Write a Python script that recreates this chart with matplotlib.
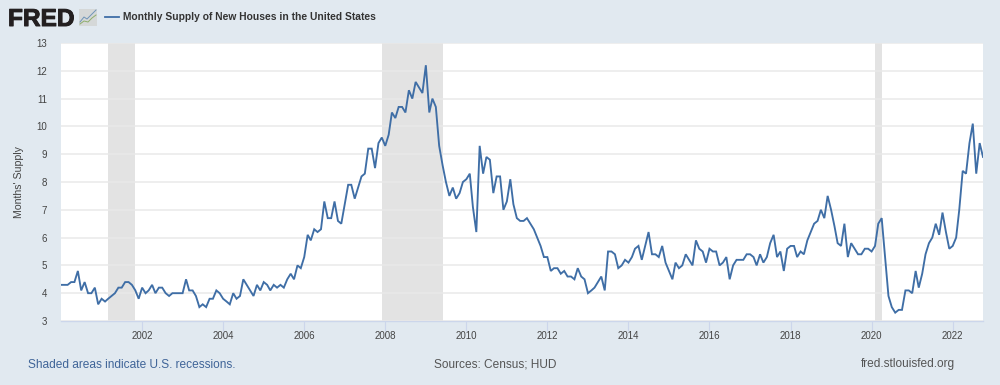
import matplotlib as mpl
mpl.use("Agg")
import matplotlib.pyplot as plt
import matplotlib.dates as mdates
import matplotlib.patheffects as pe
from matplotlib.lines import Line2D
from matplotlib.patches import Rectangle
import pandas as pd

# months' supply, one list per year
y2000 = [4.3,4.3,4.3,4.4,4.4,4.8,4.1,4.4,4.0,4.0,4.2,3.6]
y2001 = [3.8,3.7,3.8,3.9,4.0,4.2,4.2,4.4,4.4,4.3,4.1,3.8]
y2002 = [4.2,4.0,4.1,4.3,4.0,4.2,4.2,4.0,3.9,4.0,4.0,4.0]
y2003 = [4.0,4.5,4.1,4.1,3.9,3.5,3.6,3.5,3.8,3.8,4.1,4.0]
y2004 = [3.8,3.7,3.6,4.0,3.8,3.9,4.5,4.3,4.1,3.9,4.3,4.1]
y2005 = [4.4,4.3,4.1,4.3,4.2,4.3,4.2,4.5,4.7,4.5,5.0,4.9]
y2006 = [5.3,6.1,5.9,6.3,6.2,6.3,7.3,6.7,6.7,7.3,6.6,6.5]
y2007 = [7.2,7.9,7.9,7.4,7.8,8.2,8.3,9.2,9.2,8.5,9.4,9.6]
y2008 = [9.3,9.7,10.5,10.3,10.7,10.7,10.5,11.3,11.0,11.6,11.4,11.2]
y2009 = [12.2,10.5,11.0,10.7,9.3,8.6,8.0,7.5,7.8,7.4,7.6,8.0]
y2010 = [8.1,8.3,7.1,6.2,9.3,8.3,8.9,8.8,7.6,8.2,8.2,7.0]
y2011 = [7.3,8.1,7.2,6.7,6.6,6.6,6.7,6.5,6.3,6.0,5.7,5.3]
y2012 = [5.3,4.8,4.9,4.9,4.7,4.8,4.6,4.6,4.5,4.9,4.6,4.5]
y2013 = [4.0,4.1,4.2,4.4,4.6,4.1,5.5,5.5,5.4,4.9,5.0,5.2]
y2014 = [5.1,5.3,5.6,5.7,5.2,5.7,6.2,5.4,5.4,5.3,5.7,5.1]
y2015 = [4.8,4.5,5.1,4.9,5.0,5.4,5.2,5.0,5.9,5.6,5.5,5.1]
y2016 = [5.6,5.5,5.5,5.0,5.1,5.3,4.5,5.0,5.2,5.2,5.2,5.4]
y2017 = [5.4,5.3,5.0,5.4,5.1,5.3,5.8,6.1,5.3,5.5,4.8,5.6]
y2018 = [5.7,5.7,5.3,5.5,5.4,5.9,6.2,6.5,6.6,7.0,6.7,7.5]
y2019 = [7.0,6.4,5.8,5.7,6.5,5.3,5.8,5.6,5.4,5.4,5.6,5.6]
y2020 = [5.5,5.7,6.5,6.7,5.3,3.9,3.5,3.3,3.4,3.4,4.1,4.1]
y2021 = [4.0,4.8,4.2,4.7,5.4,5.8,6.0,6.5,6.1,6.9,6.2,5.6]
y2022 = [5.7,6.0,7.0,8.4,8.3,9.4,10.1,8.3,9.4,8.9]

supply = (y2000+y2001+y2002+y2003+y2004+y2005+y2006+y2007+y2008+y2009+y2010+y2011
	+y2012+y2013+y2014+y2015+y2016+y2017+y2018+y2019+y2020+y2021+y2022)
dates = pd.date_range("2000-01-01", periods=len(supply), freq="MS")

recessions = [("2001-03-01", "2001-11-01"), ("2007-12-01", "2009-06-01"), ("2020-02-01", "2020-04-01")]
tick_years = [2002,2004,2006,2008,2010,2012,2014,2016,2018,2020,2022]
y_ticks = [3,4,5,6,7,8,9,10,11,12,13]

title = "Monthly Supply of New Houses in the United States"
bg = "#e1e9f0"
blue = "#3f6ea6"
grey_text = "#555555"

plt.rcParams["font.family"] = ["Liberation Sans", "DejaVu Sans"]

fig = plt.figure(figsize=(10, 3.85), dpi=100, facecolor=bg)
W, H = 1000.0, 385.0
ax = fig.add_axes([61/W, 1-321/H, 922/W, 278/H])
ax.set_facecolor("white")

for start, end in recessions:
	ax.axvspan(pd.Timestamp(start), pd.Timestamp(end), color="#e3e3e3", lw=0, zorder=1)
ax.plot(dates, supply, color=blue, lw=1.35, zorder=3, solid_joinstyle="miter")

ax.set_xlim(dates[0], dates[-1])
ax.set_ylim(3, 13)
ax.set_yticks(y_ticks)
ax.set_xticks([pd.Timestamp(str(y) + "-01-01") for y in tick_years])
ax.xaxis.set_major_formatter(mdates.DateFormatter("%Y"))
ax.grid(axis="y", color="#e9e9e9", lw=1.1, zorder=2)
ax.set_axisbelow(False)
ax.tick_params(axis="y", length=0, pad=10, labelsize=7.0, labelcolor="#444444")
ax.tick_params(axis="x", length=7, width=0.8, color="#ccd6eb", pad=0.5, labelsize=7.0, labelcolor="#444444")
for s in ["top", "left", "right"]:
	ax.spines[s].set_visible(False)
ax.spines["bottom"].set_color("#ccd6eb")
ax.spines["bottom"].set_linewidth(1)
ax.set_ylabel("Months' Supply", fontsize=7.6, color="#444444")
ax.yaxis.set_label_coords((24-61)/922.0, 0.5)

# header: logo, small icon and legend entry
logo = fig.text(8/W, 1-26/H, "FRED", fontsize=17.6, fontweight="bold", color="#231f20", va="baseline")
logo.set_path_effects([pe.withStroke(linewidth=0.7, foreground="#231f20")])
fig.add_artist(Rectangle((79/W, 1-26/H), 18/W, 17/H, transform=fig.transFigure, facecolor="#d5d8d8", edgecolor="none"))
fig.add_artist(Line2D([80/W, 84/W, 87/W, 91/W, 96/W], [1-22/H, 1-17/H, 1-19/H, 1-15/H, 1-10/H],
	transform=fig.transFigure, color="#6f94b8", lw=0.7))
fig.add_artist(Line2D([80/W, 84/W, 88/W, 92/W, 96/W], [1-24/H, 1-21/H, 1-22/H, 1-18/H, 1-15/H],
	transform=fig.transFigure, color="#8fae6c", lw=0.7))
fig.add_artist(Line2D([105/W, 119/W], [1-17/H, 1-17/H], transform=fig.transFigure, color=blue, lw=1.3))
fig.text(123/W, 1-17/H, title, fontsize=7.37, fontweight="bold", color="#333333", va="center")

# footer
fig.text(28/W, 1-364.5/H, "Shaded areas indicate U.S. recessions.", fontsize=8.6, color="#3f6498", va="center")
fig.text(434/W, 1-364.5/H, "Sources: Census; HUD", fontsize=8.6, color=grey_text, va="center")
fig.text(861/W, 1-364.5/H, "fred.stlouisfed.org", fontsize=8.6, color=grey_text, va="center")

fig.savefig("out.png", dpi=100, facecolor=bg)
